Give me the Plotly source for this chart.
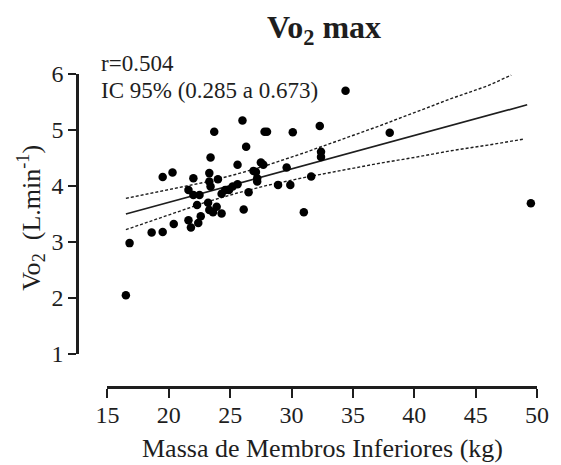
import plotly.graph_objects as go

# Scatter data (Massa de Membros Inferiores (kg) vs Vo2 max (L.min-1))
massa = [16.5, 16.8, 18.6, 19.5, 19.5, 20.3, 20.4, 21.6, 21.6, 21.8, 22.0, 22.0,
         22.3, 22.4, 22.5, 22.6, 23.2, 23.3, 23.3, 23.3, 23.4, 23.4, 23.6, 23.7,
         23.9, 24.0, 24.3, 24.3, 24.6, 24.9, 25.2, 25.6, 25.6, 26.0, 26.1, 26.3,
         26.5, 26.9, 27.1, 27.2, 27.2, 27.5, 27.7, 27.8, 28.0, 28.9, 29.6, 29.9,
         30.1, 31.0, 31.6, 32.3, 32.4, 32.4, 34.4, 38.0, 49.5]
vo2 = [2.05, 2.98, 3.17, 3.18, 4.16, 4.24, 3.32, 3.39, 3.93, 3.26, 4.14, 3.84,
       3.66, 3.34, 3.84, 3.46, 3.70, 4.23, 4.08, 3.57, 3.99, 4.51, 3.53, 4.97,
       3.63, 4.12, 3.51, 3.86, 3.93, 3.93, 3.99, 4.03, 4.38, 5.17, 3.58, 4.70,
       3.89, 4.27, 4.25, 4.14, 4.08, 4.42, 4.38, 4.97, 4.97, 4.02, 4.33, 4.02,
       4.96, 3.53, 4.17, 5.07, 4.61, 4.52, 5.70, 4.95, 3.69]

# Regression line and 95% confidence band
fit_x = [16.5, 20, 23, 25.5, 28, 31, 34, 37, 40, 43, 46, 49.2]
fit_y = [3.50, 3.71, 3.89, 4.04, 4.19, 4.37, 4.55, 4.73, 4.91, 5.09, 5.26, 5.45]
upper_x = [16.5, 20, 23, 25.5, 28, 31, 34, 37, 40, 43, 46, 47.9]
upper_y = [3.78, 3.93, 4.07, 4.21, 4.37, 4.59, 4.82, 5.06, 5.31, 5.56, 5.79, 5.98]
lower_x = [16.5, 20, 23, 25.5, 28, 31, 34, 37, 40, 43, 46, 49.0]
lower_y = [3.22, 3.49, 3.71, 3.87, 4.01, 4.15, 4.28, 4.40, 4.51, 4.63, 4.73, 4.84]

x_ticks = [15, 20, 25, 30, 35, 40, 45, 50]
y_ticks = [1, 2, 3, 4, 5, 6]

title_text = "<b>Vo<sub>2</sub> max</b>"
x_title = "Massa de Membros Inferiores (kg)"
y_title = "Vo<sub>2</sub>  (L.min<sup>-1</sup>)"
note_r = "r=0.504"
note_ic = "IC 95% (0.285 a 0.673)"

FONT = "Liberation Serif"
INK = "#1e1e1e"

W, H = 561, 465
L, R, T, B = 77, 16, 74, 78
pw, ph = W - L - R, H - T - B


def px(xp):
    return (xp - L) / pw


def py(yp):
    return (H - B - yp) / ph


fig = go.Figure()
fig.add_trace(go.Scatter(x=upper_x, y=upper_y, mode="lines",
                         line=dict(color=INK, width=1.4, dash="3px,2px"),
                         hoverinfo="skip", showlegend=False))
fig.add_trace(go.Scatter(x=lower_x, y=lower_y, mode="lines",
                         line=dict(color=INK, width=1.4, dash="3px,2px"),
                         hoverinfo="skip", showlegend=False))
fig.add_trace(go.Scatter(x=fit_x, y=fit_y, mode="lines",
                         line=dict(color=INK, width=1.7),
                         hoverinfo="skip", showlegend=False))
fig.add_trace(go.Scatter(x=massa, y=vo2, mode="markers",
                         marker=dict(color="black", size=8.5),
                         cliponaxis=False, showlegend=False))

fig.update_layout(
    width=W, height=H,
    margin=dict(l=L, r=R, t=T, b=B),
    plot_bgcolor="white", paper_bgcolor="white",
    font=dict(family=FONT, color=INK, size=24),
    xaxis=dict(domain=[(108 - L) / pw, 1], range=[15, 50], anchor="free", position=0,
               tickvals=x_ticks, ticks="outside", ticklen=9, tickwidth=2.4,
               tickcolor=INK, showline=True, linecolor=INK, linewidth=2.6,
               showgrid=False, zeroline=False, tickfont=dict(size=24),
               ticklabelstandoff=-4),
    yaxis=dict(domain=[(H - B - 354) / ph, 1], range=[1, 6], anchor="free", position=0,
               tickvals=y_ticks, ticks="outside", ticklen=8, tickwidth=2.4,
               tickcolor=INK, showline=True, linecolor=INK, linewidth=2.6,
               showgrid=False, zeroline=False, tickfont=dict(size=24),
               ticklabelstandoff=0),
    annotations=[
        dict(text=title_text, x=px(328), y=py(29), xref="paper", yref="paper",
             showarrow=False, font=dict(size=32, color=INK), xanchor="center", yanchor="middle"),
        dict(text=note_r, x=px(99), y=py(63), xref="paper", yref="paper",
             showarrow=False, font=dict(size=23, color=INK), xanchor="left", yanchor="middle"),
        dict(text=note_ic, x=px(99), y=py(90), xref="paper", yref="paper",
             showarrow=False, font=dict(size=23, color=INK), xanchor="left", yanchor="middle"),
        dict(text=x_title, x=px(326.5), y=py(449), xref="paper", yref="paper",
             showarrow=False, font=dict(size=26, color=INK), xanchor="center", yanchor="middle"),
        dict(text=y_title, x=px(30), y=py(218), xref="paper", yref="paper",
             showarrow=False, font=dict(size=26, color=INK), textangle=-90,
             xanchor="center", yanchor="middle"),
    ],
)

fig.write_html("out.html")
